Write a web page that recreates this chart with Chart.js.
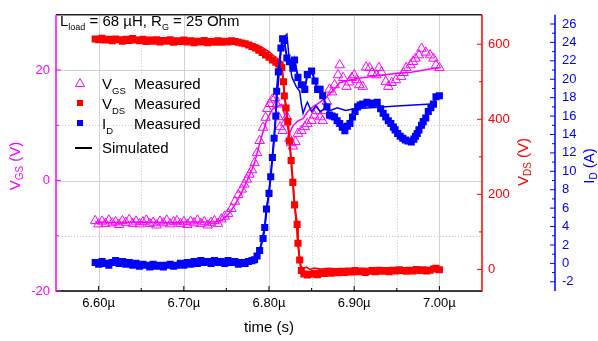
<!DOCTYPE html>
<html><head><meta charset="utf-8">
<script src="https://cdn.jsdelivr.net/npm/chart.js@4/dist/chart.umd.min.js"></script>
<style>html,body{margin:0;padding:0;background:#fff;}canvas{display:block;}</style>
</head><body>
<canvas id="c" width="598" height="341"></canvas>
<script>
// ---------- tick positions ----------
const TIME_TICKS = [6.60, 6.70, 6.80, 6.90, 7.00];
const TIME_MINOR = [6.65, 6.75, 6.85, 6.95];
const VGS_TICKS = [-20, 0, 20];
const VGS_MINOR = [-10, 10];
const VDS_TICKS = [0, 200, 400, 600];
const VDS_MINOR = [100, 300, 500];
const ID_TICKS = [-2, 0, 2, 4, 6, 8, 10, 12, 14, 16, 18, 20, 22, 24, 26];
const ID_MINOR = [-1, 1, 3, 5, 7, 9, 11, 13, 15, 17, 19, 21, 23, 25];

// ---------- V_GS measured (time in µs, V) ----------
const VGS_MEAS_T = [6.596,6.600,6.604,6.608,6.612,6.616,6.620,6.624,6.628,6.632,
 6.636,6.640,6.644,6.648,6.652,6.656,6.660,6.664,6.668,6.672,
 6.676,6.680,6.684,6.688,6.692,6.696,6.700,6.704,6.708,6.712,
 6.716,6.720,6.724,6.728,6.732,6.736,6.740,
 6.744,6.748,6.752,6.756,6.760,6.764,6.768,6.771,6.774,6.777,
 6.780,6.783,6.786,6.789,6.793,6.796,6.798,6.801,6.804,6.807,
 6.809,6.811,6.813,6.816,6.819,6.821,6.824,6.826,6.828,6.831,
 6.834,6.838,6.842,6.845,6.850,6.853,6.856,6.860,6.863,6.866,
 6.868,6.871,6.874,6.877,6.881,6.883,6.887,6.891,6.894,6.897,
 6.900,6.903,6.906,6.910,6.914,6.918,6.921,6.926,6.929,6.932,
 6.937,6.940,6.944,6.949,6.955,6.958,6.961,6.966,6.969,6.972,
 6.976,6.979,6.984,6.989,6.993,6.996,7.000];
const VGS_MEAS_V = [-7.3,-7.9,-7.4,-7.8,-7.2,-7.7,-7.5,-8.0,-7.3,-7.6,
 -7.1,-7.8,-7.4,-7.9,-7.5,-7.2,-7.8,-7.6,-8.1,-7.4,
 -7.7,-7.2,-7.9,-7.5,-7.3,-7.8,-7.5,-8.0,-7.4,-7.7,
 -7.2,-7.8,-7.5,-8.1,-7.6,-7.3,-7.8,
 -7.0,-6.5,-6.0,-5.1,-3.8,-2.6,-1.6,-0.7,0.2,1.1,
 1.9,3.2,5.0,7.2,9.6,11.4,13.0,13.9,14.7,15.0,
 13.8,11.5,9.7,9.0,10.4,11.5,7.6,6.8,6.2,7.0,
 8.5,9.0,9.7,10.3,10.8,11.8,12.6,11.5,10.8,12.6,
 14.3,16.5,16.0,17.3,19.1,20.9,18.6,17.0,17.8,18.6,
 19.1,18.2,17.3,17.0,20.5,20.4,19.5,19.1,20.4,19.6,
 17.9,17.0,17.7,18.2,18.8,19.5,20.4,20.9,21.5,22.1,
 22.7,23.9,23.2,22.7,22.1,20.9,20.4];

// ---------- V_GS simulated ----------
const VGS_SIM_T = [6.596,6.620,6.650,6.680,6.710,6.735,6.745,6.752,6.760,6.768,
 6.775,6.780,6.783,6.790,6.797,6.804,6.810,6.815,6.819,6.824,
 6.828,6.834,6.840,6.845,6.851,6.860,6.868,6.877,6.883,6.895,
 6.910,6.930,6.950,6.967,6.985,7.000];
const VGS_SIM_V = [-7.5,-7.6,-7.5,-7.6,-7.5,-7.5,-7.2,-6.2,-4.4,-2.1,
 0.2,2.0,3.2,7.3,10.8,12.9,13.4,13.8,11.5,8.5,
 9.9,10.8,11.2,12.4,13.3,14.2,15.2,16.6,17.7,18.2,
 18.6,19.0,19.4,19.6,20.1,20.4];

// ---------- V_DS measured ----------
const VDS_MEAS_T = [6.596,6.600,6.604,6.608,6.612,6.616,6.620,6.624,6.628,6.632,
 6.636,6.640,6.644,6.648,6.652,6.656,6.660,6.664,6.668,6.672,
 6.676,6.680,6.684,6.688,6.692,6.696,6.700,6.704,6.708,6.712,
 6.716,6.720,6.724,6.728,6.732,6.736,6.740,6.744,6.748,6.752,
 6.756,6.760,6.764,6.768,6.772,6.776,6.780,6.784,6.788,6.792,
 6.796,6.800,6.804,6.808,6.811,6.813,6.815,6.817,6.818,6.820,
 6.822,6.824,6.826,6.828,6.830,6.833,6.834,6.836,6.838,6.841,
 6.845,6.849,6.853,6.857,6.861,6.865,6.869,6.873,6.877,6.881,
 6.885,6.889,6.893,6.897,6.901,6.905,6.909,6.913,6.917,6.921,
 6.925,6.929,6.933,6.937,6.941,6.945,6.949,6.953,6.957,6.961,
 6.965,6.969,6.973,6.977,6.981,6.985,6.989,6.993,6.996,7.000];
const VDS_MEAS_V = [614,612,616,611,613,609,614,612,608,613,
 610,615,611,609,613,607,611,608,612,606,
 610,608,612,605,609,607,611,606,609,604,
 608,606,610,604,607,605,609,605,608,606,
 609,607,605,603,601,598,594,590,584,578,
 571,565,558,552,548,545,538,500,462,430,
 394,342,290,232,172,120,70,25,-3,-12,
 -15,-13,-10,-14,-9,-11,-7,-10,-6,-9,
 -5,-8,-4,-7,-3,-6,-4,-8,-5,-3,
 -6,-2,-5,-3,-6,-2,-4,-1,-3,-5,
 -2,-4,0,-3,-1,-4,-2,1,3,-1];

// ---------- V_DS simulated ----------
const VDS_SIM_T = [6.596,6.650,6.700,6.750,6.770,6.780,6.790,6.800,6.806,6.810,
 6.814,6.816,6.818,6.822,6.826,6.830,6.834,6.837,6.840,6.844,
 6.848,6.853,6.860,6.870,6.890,6.920,6.950,6.980,7.000];
const VDS_SIM_V = [612,611,610,609,607,603,594,580,568,562,
 553,520,470,400,290,175,70,10,2,6,
 0,4,1,3,0,1,0,1,0];

// ---------- I_D measured ----------
const ID_MEAS_T = [6.596,6.600,6.604,6.608,6.612,6.616,6.620,6.624,6.628,6.632,
 6.636,6.640,6.644,6.648,6.652,6.656,6.660,6.664,6.668,6.672,
 6.676,6.680,6.684,6.688,6.692,6.696,6.700,6.704,6.708,6.712,
 6.716,6.720,6.724,6.728,6.732,6.736,6.740,6.744,6.748,6.752,
 6.756,6.760,6.764,6.768,6.772,6.776,6.780,6.783,6.786,6.789,
 6.793,6.795,6.797,6.800,6.802,6.804,6.806,6.808,6.809,6.811,
 6.814,6.816,6.818,6.821,6.824,6.828,6.830,6.834,6.838,6.842,
 6.845,6.850,6.854,6.857,6.860,6.863,6.868,6.871,6.874,6.877,
 6.880,6.883,6.886,6.889,6.892,6.895,6.898,6.901,6.904,6.907,
 6.910,6.915,6.918,6.921,6.924,6.927,6.931,6.934,6.937,6.940,
 6.943,6.946,6.948,6.951,6.954,6.957,6.960,6.963,6.967,6.970,
 6.972,6.974,6.976,6.979,6.981,6.984,6.987,6.990,6.993,6.996,
 7.000];
const ID_MEAS_V = [0.1,-0.1,0.2,0.0,-0.2,0.1,0.3,0.0,0.2,-0.1,
 0.1,-0.2,0.0,-0.3,-0.1,-0.2,-0.4,-0.1,-0.3,-0.2,
 -0.4,-0.2,-0.1,-0.3,-0.2,0.0,-0.2,0.1,-0.1,0.2,
 0.0,0.3,0.1,0.2,0.0,0.3,0.1,0.2,0.0,0.3,
 0.1,0.2,-0.1,0.1,0.0,0.2,0.3,0.4,0.8,1.4,
 2.7,3.9,5.9,7.6,9.4,11.5,13.6,16.0,18.7,20.8,
 23.4,24.4,24.2,22.3,21.9,21.2,22.1,20.2,19.4,18.9,
 20.5,20.9,19.8,18.9,18.9,18.2,17.0,16.1,16.0,15.9,
 15.5,15.2,14.8,14.4,14.9,15.2,15.9,16.5,17.0,17.2,
 17.3,17.5,17.4,17.3,17.4,17.5,16.8,16.3,15.9,15.5,
 15.2,14.8,14.5,14.1,13.8,13.6,13.4,13.3,13.2,13.5,
 13.8,14.1,14.5,15.0,15.4,15.8,16.5,16.9,17.3,18.1,
 18.2];

// ---------- I_D simulated ----------
const ID_SIM_T = [6.596,6.650,6.700,6.750,6.780,6.786,6.790,6.795,6.800,6.805,
 6.810,6.814,6.817,6.821,6.824,6.827,6.832,6.836,6.838,6.840,
 6.843,6.845,6.850,6.855,6.860,6.866,6.872,6.880,6.890,6.900,
 6.920,6.950,6.990];
const ID_SIM_V = [0.0,0.0,0.0,0.0,0.1,0.6,1.8,4.0,7.8,12.5,
 18.5,23.0,24.5,24.9,21.9,20.2,19.2,18.7,17.3,16.3,
 17.1,17.5,16.5,17.1,16.5,16.8,16.6,16.9,16.6,16.8,
 16.9,17.1,17.3];

// ---------- styling ----------
const FONT = "'Liberation Sans', Arial, Helvetica, sans-serif";
const PINK = '#ff00ff', RED = '#ff0000', BLUE = '#0000ff';
Chart.defaults.font.family = FONT;

function pts(T, V) { return T.map((t, i) => ({ x: t, y: V[i] })); }

function seg(ctx, x1, y1, x2, y2) { ctx.beginPath(); ctx.moveTo(x1, y1); ctx.lineTo(x2, y2); ctx.stroke(); }
function richWidth(ctx, parts, size, subSize) {
  let w = 0;
  parts.forEach(([t, sub]) => { ctx.font = (sub ? subSize : size) + 'px ' + FONT; w += ctx.measureText(t).width; });
  return w;
}
function rich(ctx, parts, x, y, size, subSize, subOff) {
  let cx = x;
  parts.forEach(([t, sub]) => {
    ctx.font = (sub ? subSize : size) + 'px ' + FONT;
    ctx.fillText(t, cx, y + (sub ? subOff : 0));
    cx += ctx.measureText(t).width;
  });
}
function rotTitle(ctx, parts, bx, cy, color) {
  ctx.save();
  ctx.translate(bx, cy);
  ctx.rotate(-Math.PI / 2);
  ctx.fillStyle = color;
  ctx.textBaseline = 'alphabetic';
  ctx.textAlign = 'left';
  const w = richWidth(ctx, parts, 15, 10);
  rich(ctx, parts, -w / 2, 0, 15, 10, 3);
  ctx.restore();
}

const deco = {
  id: 'deco',
  beforeDatasetsDraw(chart) {
    const { ctx, chartArea: a, scales } = chart;
    const x = scales.x, y = scales.y;
    ctx.save();
    ctx.lineWidth = 1;
    ctx.strokeStyle = '#d2d2d2';
    TIME_TICKS.forEach(v => { const p = Math.round(x.getPixelForValue(v)) + 0.5; seg(ctx, p, a.top, p, a.bottom); });
    VGS_TICKS.forEach(v => { const p = Math.round(y.getPixelForValue(v)) + 0.5; seg(ctx, a.left, p, a.right, p); });
    ctx.setLineDash([1, 2]);
    ctx.strokeStyle = '#c8c8c8';
    TIME_MINOR.forEach(v => { const p = Math.round(x.getPixelForValue(v)) + 0.5; seg(ctx, p, a.top, p, a.bottom); });
    VGS_MINOR.forEach(v => { const p = Math.round(y.getPixelForValue(v)) + 0.5; seg(ctx, a.left, p, a.right, p); });
    ctx.restore();
  },
  afterDatasetsDraw(chart) {
    const { ctx, chartArea: a, scales } = chart;
    const x = scales.x, y = scales.y, y1 = scales.y1, y2 = scales.y2;
    ctx.save();
    ctx.lineWidth = 1.5;
    // frame / axis lines
    ctx.strokeStyle = '#222'; seg(ctx, a.left, a.top, a.right, a.top);
    ctx.strokeStyle = '#000'; seg(ctx, a.left, a.bottom, a.right, a.bottom);
    ctx.strokeStyle = PINK; seg(ctx, a.left, a.top, a.left, a.bottom + 0.75);
    ctx.strokeStyle = RED; seg(ctx, a.right, a.top, a.right, a.bottom + 0.75);
    const bx = y2.left;
    ctx.strokeStyle = BLUE; seg(ctx, bx, a.top, bx, a.bottom);
    // tick marks (inward)
    ctx.lineWidth = 1;
    ctx.strokeStyle = '#000';
    TIME_TICKS.forEach(v => { const p = x.getPixelForValue(v); seg(ctx, p, a.bottom, p, a.bottom - 5); });
    TIME_MINOR.forEach(v => { const p = x.getPixelForValue(v); seg(ctx, p, a.bottom, p, a.bottom - 3); });
    ctx.strokeStyle = PINK;
    VGS_TICKS.forEach(v => { const p = y.getPixelForValue(v); seg(ctx, a.left, p, a.left + 5, p); });
    VGS_MINOR.forEach(v => { const p = y.getPixelForValue(v); seg(ctx, a.left, p, a.left + 3, p); });
    ctx.strokeStyle = RED;
    VDS_TICKS.forEach(v => { const p = y1.getPixelForValue(v); seg(ctx, a.right, p, a.right - 5, p); });
    VDS_MINOR.forEach(v => { const p = y1.getPixelForValue(v); seg(ctx, a.right, p, a.right - 3, p); });
    ctx.strokeStyle = BLUE;
    ID_TICKS.forEach(v => { const p = y2.getPixelForValue(v); seg(ctx, bx, p, bx - 5, p); });
    ID_MINOR.forEach(v => { const p = y2.getPixelForValue(v); seg(ctx, bx, p, bx - 3, p); });
    ctx.restore();

    // texts
    ctx.save();
    ctx.textBaseline = 'alphabetic';
    ctx.textAlign = 'left';
    ctx.fillStyle = '#000';
    // annotation
    rich(ctx, [['L', false], ['load', true], [' = 68 \u00b5H, R', false], ['G', true], [' = 25 Ohm', false]], 60, 26, 15, 9, 4);
    // legend
    ctx.strokeStyle = PINK; ctx.lineWidth = 1;
    ctx.beginPath();
    ctx.moveTo(80, 78.5); ctx.lineTo(84.5, 86.5); ctx.lineTo(75.5, 86.5); ctx.closePath(); ctx.stroke();
    ctx.fillStyle = RED; ctx.fillRect(77, 100, 6, 6);
    ctx.fillStyle = BLUE; ctx.fillRect(77, 120, 6, 6);
    ctx.strokeStyle = '#000'; ctx.lineWidth = 2; seg(ctx, 75, 148, 92, 148);
    ctx.fillStyle = '#000';
    rich(ctx, [['V', false], ['GS', true]], 102, 89, 15, 9.5, 5);
    rich(ctx, [['Measured', false]], 134, 89, 15, 9.5, 5);
    rich(ctx, [['V', false], ['DS', true]], 102, 109, 15, 9.5, 5);
    rich(ctx, [['Measured', false]], 134, 109, 15, 9.5, 5);
    rich(ctx, [['I', false], ['D', true]], 102, 129, 15, 9.5, 5);
    rich(ctx, [['Measured', false]], 134, 129, 15, 9.5, 5);
    rich(ctx, [['Simulated', false]], 102, 153, 15, 9.5, 5);
    // x title
    ctx.font = '15px ' + FONT;
    ctx.textAlign = 'center';
    ctx.fillText('time (s)', (a.left + a.right) / 2 + 0, 332);
    ctx.restore();
    // y titles
    rotTitle(ctx, [['V', false], ['GS', true], [' (V)', false]], 20, 166, PINK);
    rotTitle(ctx, [['V', false], ['DS', true], [' (V)', false]], 528, 162, RED);
    rotTitle(ctx, [['I', false], ['D', true], [' (A)', false]], 594, 166, BLUE);
  }
};

function setTicks(arr) { return function (s) { s.ticks = arr.map(v => ({ value: v })); }; }

const tickFont = { size: 13, family: FONT };

new Chart(document.getElementById('c'), {
  type: 'line',
  data: {
    datasets: [
      { label: 'I_D simulated', data: pts(ID_SIM_T, ID_SIM_V), yAxisID: 'y2', borderColor: BLUE, borderWidth: 1.5, pointRadius: 0, order: 0 },
      { label: 'I_D measured', data: pts(ID_MEAS_T, ID_MEAS_V), yAxisID: 'y2', borderColor: BLUE, borderWidth: 2, pointStyle: 'rect', pointRadius: 5, pointBackgroundColor: BLUE, pointBorderColor: BLUE, pointBorderWidth: 0, order: 1 },
      { label: 'V_DS simulated', data: pts(VDS_SIM_T, VDS_SIM_V), yAxisID: 'y1', borderColor: RED, borderWidth: 1.5, pointRadius: 0, order: 2 },
      { label: 'V_DS measured', data: pts(VDS_MEAS_T, VDS_MEAS_V), yAxisID: 'y1', borderColor: RED, borderWidth: 2, pointStyle: 'rect', pointRadius: 5, pointBackgroundColor: RED, pointBorderColor: RED, pointBorderWidth: 0, order: 3 },
      { label: 'V_GS simulated', data: pts(VGS_SIM_T, VGS_SIM_V), yAxisID: 'y', borderColor: PINK, borderWidth: 1.5, pointRadius: 0, order: 4 },
      { label: 'V_GS measured', data: pts(VGS_MEAS_T, VGS_MEAS_V), yAxisID: 'y', showLine: false, pointStyle: 'triangle', pointRadius: 5.5, pointBackgroundColor: 'rgba(0,0,0,0)', pointBorderColor: PINK, pointBorderWidth: 1, order: 5 }
    ]
  },
  options: {
    responsive: false, animation: false, devicePixelRatio: 1, events: [],
    layout: { padding: { top: 9, left: 0, right: 0, bottom: 0 } },
    plugins: { legend: { display: false }, tooltip: { enabled: false }, title: { display: false } },
    scales: {
      x: {
        type: 'linear', position: 'bottom', min: 6.55, max: 7.05,
        afterBuildTicks: setTicks(TIME_TICKS), afterFit(s) { s.height = 50; },
        grid: { display: false, drawTicks: false }, border: { display: false },
        ticks: { color: '#000', font: tickFont, padding: 5, autoSkip: false, maxRotation: 0, callback: v => Number(v).toFixed(2) + '\u00b5' }
      },
      y: {
        type: 'linear', position: 'left', min: -20, max: 30,
        afterBuildTicks: setTicks(VGS_TICKS), afterFit(s) { s.width = 56; },
        grid: { display: false, drawTicks: false }, border: { display: false },
        ticks: { color: PINK, font: tickFont, padding: 6, autoSkip: false, callback: v => String(v) }
      },
      y1: {
        type: 'linear', position: 'right', min: -57.4, max: 678.3,
        afterBuildTicks: setTicks(VDS_TICKS), afterFit(s) { s.width = 73; },
        grid: { display: false, drawTicks: false }, border: { display: false },
        ticks: { color: RED, font: tickFont, padding: 6, autoSkip: false, callback: v => String(v) }
      },
      y2: {
        type: 'linear', position: 'right', min: -3, max: 27,
        afterBuildTicks: setTicks(ID_TICKS), afterFit(s) { s.width = 43; },
        grid: { display: false, drawTicks: false }, border: { display: false },
        ticks: { color: BLUE, font: tickFont, padding: 7, autoSkip: false, callback: v => String(v) }
      }
    }
  },
  plugins: [deco]
});
</script>
</body></html>
